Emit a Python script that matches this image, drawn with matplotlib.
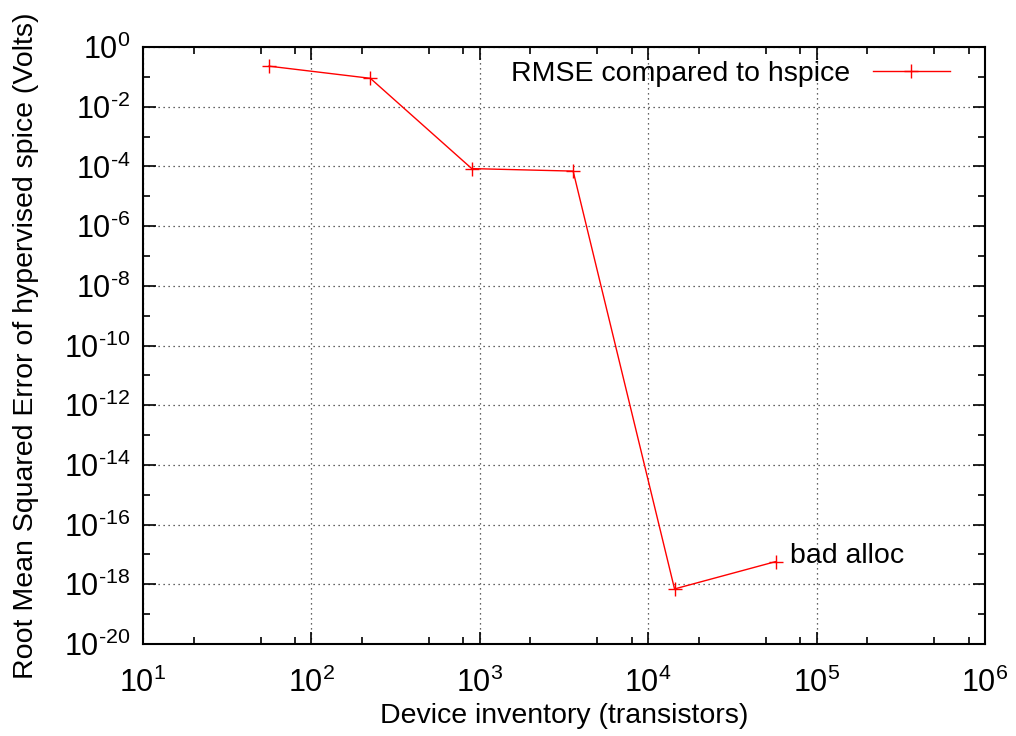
import numpy as np
import matplotlib.pyplot as plt
from matplotlib.ticker import LogLocator, NullFormatter, FuncFormatter

plt.rcParams['font.family'] = ['Liberation Sans', 'DejaVu Sans']
plt.rcParams['mathtext.fontset'] = 'custom'
plt.rcParams['mathtext.rm'] = 'Liberation Sans'
plt.rcParams['mathtext.it'] = 'Liberation Sans'

# device count vs RMSE
transistors = [56, 224, 896, 3584, 14336, 57344]
rmse = [0.23, 0.09, 8.5e-5, 7.0e-5, 7.0e-19, 5.8e-18]
series_label = 'RMSE compared to hspice'
note_text = 'bad alloc'


def pow10(v, pos):
    e = int(round(np.log10(v)))
    return r'$10^{\text{%d}}$' % e


fig = plt.figure(figsize=(10.16, 7.36), dpi=100)
ax = fig.add_axes([0.1407, 0.125, 0.8288, 0.811])

ax.plot(transistors, rmse, color='red', lw=1.0, marker='+', ms=10, mew=1.0,
        label=series_label)
ax.set_xscale('log')
ax.set_yscale('log')
ax.set_xlim(1e1, 1e6)
ax.set_ylim(1e-20, 1e0)

ax.xaxis.set_major_locator(LogLocator(base=10, numticks=10))
ax.xaxis.set_minor_locator(LogLocator(base=10, subs=[2, 5, 8], numticks=10))
ax.xaxis.set_minor_formatter(NullFormatter())
ax.yaxis.set_major_locator(LogLocator(base=100, numticks=20))
ax.yaxis.set_minor_locator(LogLocator(base=100, subs=[10], numticks=20))
ax.yaxis.set_minor_formatter(NullFormatter())
ax.xaxis.set_major_formatter(FuncFormatter(pow10))
ax.yaxis.set_major_formatter(FuncFormatter(pow10))

ax.tick_params(which='both', direction='in', top=True, right=True, width=1.2)
ax.tick_params(which='major', length=9, labelsize=22, pad=9)
ax.tick_params(axis='x', which='major', pad=17)
ax.tick_params(which='minor', length=5)
for s in ax.spines.values():
    s.set_linewidth(1.5)

ax.grid(True, which='major', color='#333333', ls=(0, (1, 3)), lw=0.9)

ax.annotate(note_text, (transistors[-1], rmse[-1]), xytext=(10, 4),
            textcoords='offset points', fontsize=20.5, va='center')

ax.legend(loc='upper right', bbox_to_anchor=(0.975, 1.0), frameon=False,
          markerfirst=False, fontsize=20.5, handlelength=2.7,
          borderaxespad=0.1, handletextpad=0.8)

ax.set_xlabel('Device inventory (transistors)', fontsize=20.5, labelpad=3)
ax.set_ylabel('Root Mean Squared Error of hypervised spice (Volts)',
              fontsize=20.5, labelpad=18)

fig.savefig('out.png', dpi=100)
